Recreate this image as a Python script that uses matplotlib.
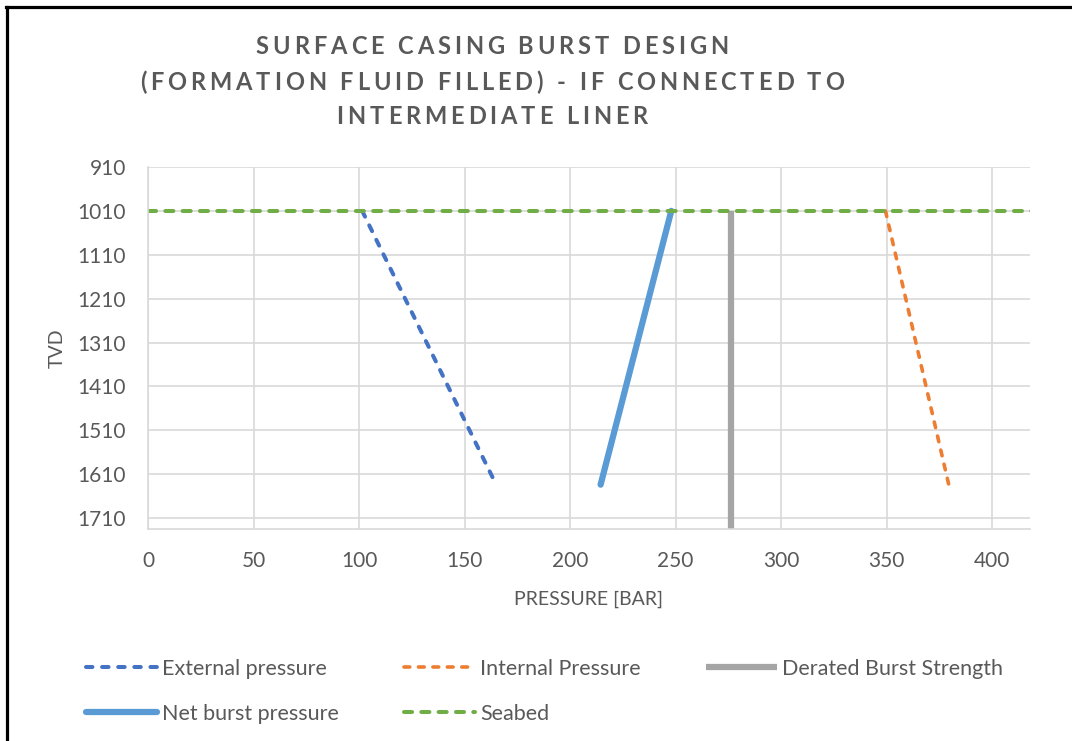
import matplotlib
matplotlib.use("Agg")
import matplotlib.pyplot as plt
from matplotlib.lines import Line2D

# depth range of the surface casing (TVD)
depth = [1010, 1634]
external_pressure = [101.5, 165.0]
internal_pressure = [349.5, 379.5]
net_burst = [248.0, 214.5]
derated_depth = [1010, 1735]
derated_strength = [276.4, 276.4]
seabed_x = [0, 420]
seabed_depth = [1010, 1010]

y_ticks = [910, 1010, 1110, 1210, 1310, 1410, 1510, 1610, 1710]
x_ticks = [0, 50, 100, 150, 200, 250, 300, 350, 400]

title_lines = ["SURFACE CASING BURST DESIGN",
               "(FORMATION FLUID FILLED) - IF CONNECTED TO",
               "INTERMEDIATE LINER"]

GREY = "#595959"
plt.rcParams["font.family"] = ["Lato", "DejaVu Sans"]

W, H = 1072, 741
fig = plt.figure(figsize=(W / 100, H / 100), dpi=100)
ax = fig.add_axes([148 / W, 1 - 529 / H, (1030 - 148) / W, (529 - 167) / H])

ax.plot(external_pressure, depth, color="#4472C4", lw=2.9,
        dashes=(1.6, 2.4), dash_capstyle="round", label="External pressure")
ax.plot(internal_pressure, depth, color="#ED7D31", lw=2.6,
        dashes=(1.6, 2.4), dash_capstyle="round", label="Internal Pressure")
ax.plot(derated_strength, derated_depth, color="#A5A5A5", lw=4.5,
        solid_capstyle="butt", clip_on=False, label="Derated Burst Strength")
ax.plot(net_burst, depth, color="#5B9BD5", lw=4.5,
        solid_capstyle="round", label="Net burst pressure")
ax.plot(seabed_x, seabed_depth, color="#70AD47", lw=2.9,
        dashes=(2.0, 2.3), dash_capstyle="round", label="Seabed")

ax.set_xlim(0, 418)
ax.set_ylim(1735, 910)
ax.set_xticks(x_ticks)
ax.set_yticks(y_ticks)
ax.grid(True, color="#D9D9D9", lw=1.2)
ax.set_axisbelow(True)
ax.tick_params(length=0, labelsize=15, labelcolor=GREY)
ax.tick_params(axis="x", pad=16)
ax.tick_params(axis="y", pad=16)
for s in ["top", "right"]:
    ax.spines[s].set_visible(False)
for s in ["left", "bottom"]:
    ax.spines[s].set_color("#D9D9D9")
    ax.spines[s].set_linewidth(1.2)

ax.set_xlabel("PRESSURE [BAR]", fontsize=14, color=GREY, labelpad=14)
ax.set_ylabel("TVD", fontsize=14, color=GREY, labelpad=8)


def spaced_line(text, cx, cy, spacing, **kw):
    # draw a line of text with extra letter spacing (pixels), centred on cx
    r = fig.canvas.get_renderer()
    probe = fig.text(0, 0, "I", **kw)
    w_ref = probe.get_window_extent(r).width

    def adv(s):
        probe.set_text(s + "I")
        return probe.get_window_extent(r).width - w_ref

    offsets = [adv(text[:k]) + k * spacing for k in range(len(text))]
    total = adv(text) + (len(text) - 1) * spacing
    probe.remove()
    x0 = cx - total / 2
    for ch, off in zip(text, offsets):
        if ch != " ":
            fig.text((x0 + off) / W, 1 - cy / H, ch, ha="left", va="center", **kw)


for line, cy in zip(title_lines, [47, 82, 117]):
    spaced_line(line, 492, cy, 3.9, fontsize=17, fontweight="bold", color=GREY)

# legend: row-major order across three columns
handles, labels = ax.get_legend_handles_labels()
order = [0, 3, 1, 4, 2]
leg = fig.legend([handles[i] for i in order], [labels[i] for i in order],
                 ncol=3, loc="upper left", bbox_to_anchor=(86 / W, 1 - 659 / H),
                 frameon=False, fontsize=15.5, handlelength=3.3, handletextpad=0.25,
                 columnspacing=3.0, labelspacing=1.15, borderpad=0, borderaxespad=0)
for t in leg.get_texts():
    t.set_color(GREY)

# outer chart frame
fig.add_artist(Line2D([6.5 / W, 6.5 / W], [0, 1 - 6.5 / H], color="black", lw=2.3))
fig.add_artist(Line2D([5.5 / W, 1], [1 - 7 / H, 1 - 7 / H], color="black", lw=2.3))

fig.savefig("out.png", dpi=100)
